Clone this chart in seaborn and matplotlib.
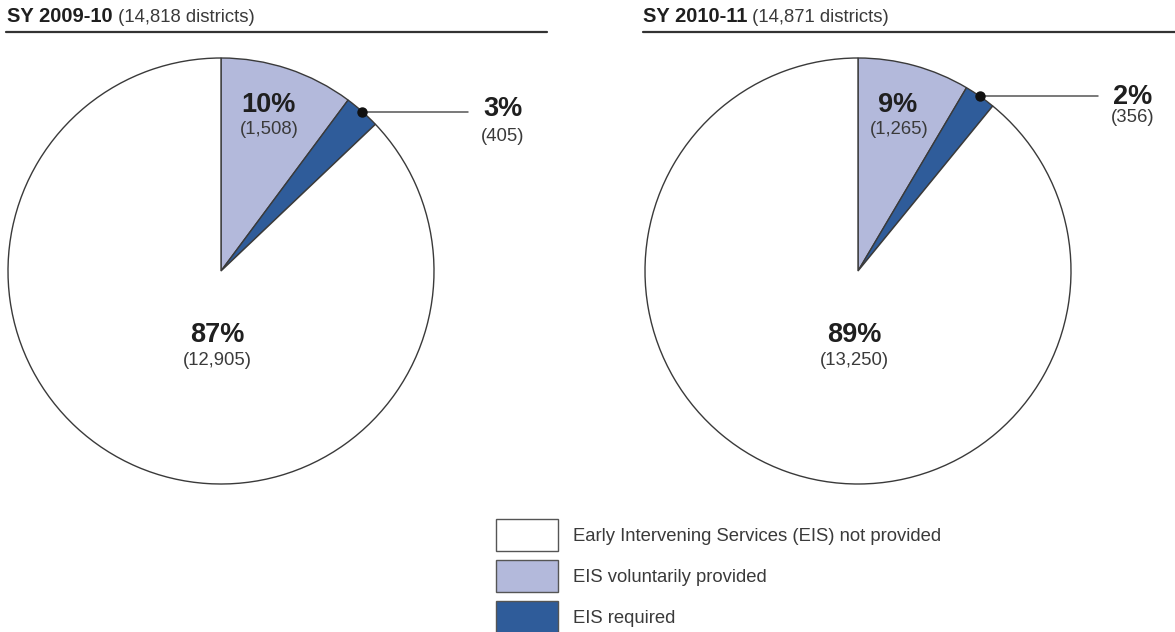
import numpy as np
import matplotlib
matplotlib.use("Agg")
import matplotlib.pyplot as plt
from matplotlib.patches import Patch
from matplotlib.lines import Line2D
import seaborn as sns

# ---- data ----
categories = ["EIS voluntarily provided", "EIS required", "Early Intervening Services (EIS) not provided"]
years = ["SY 2009-10", "SY 2010-11"]
totals = [14818, 14871]
counts_0910 = [1508, 405, 12905]
counts_1011 = [1265, 356, 13250]
pct_0910 = ["10%", "3%", "87%"]
pct_1011 = ["9%", "2%", "89%"]
legend_order = ["Early Intervening Services (EIS) not provided", "EIS voluntarily provided", "EIS required"]

sns.set_theme(style="white")
plt.rcParams['font.family'] = ['Liberation Sans', 'DejaVu Sans']

colors = {"EIS voluntarily provided": "#b3b9db",
          "EIS required": "#2f5c9a",
          "Early Intervening Services (EIS) not provided": "#ffffff"}
edge = "#3a3a3a"
BOLD_C = "#1f1f1f"
REG_C = "#3a3a3a"

W, H = 1175, 632
fig = plt.figure(figsize=(W / 100, H / 100), dpi=100)
fig.patch.set_facecolor("white")

def px_axes(cx, cy, r):
    return fig.add_axes([(cx - r) / W, 1 - (cy + r) / H, 2 * r / W, 2 * r / H])

pies = [
    dict(cx=221, cy=271, counts=counts_0910, pct=pct_0910, year=years[0], total=totals[0],
         tx=7, line=(6, 547), lead_end=1.16, lead_lab=1.324, lab_dy=0.01, sub_dy=-0.115),
    dict(cx=858, cy=271, counts=counts_1011, pct=pct_1011, year=years[1], total=totals[1],
         tx=643, line=(643, 1175), lead_end=1.127, lead_lab=1.29, lab_dy=-0.003, sub_dy=-0.10),
]

for p in pies:
    ax = px_axes(p["cx"], p["cy"], 213)
    vals = np.array(p["counts"], dtype=float)
    ax.pie(vals, colors=[colors[c] for c in categories], startangle=90, counterclock=False,
           radius=1.0, wedgeprops=dict(edgecolor=edge, linewidth=1.0))
    ax.set_xlim(-1.0, 1.0)
    ax.set_ylim(-1.0, 1.0)
    ax.axis("off")

    frac = vals / vals.sum()
    ang_start = 90.0
    ang_v_mid = np.deg2rad(ang_start - frac[0] * 180)
    ang_r_mid = np.deg2rad(ang_start - frac[0] * 360 - frac[1] * 180)

    # voluntarily label
    lx = 0.71 * np.cos(ang_v_mid)
    ax.text(lx, 0.778, p["pct"][0], ha="center", va="center", fontsize=19.5, fontweight="bold", color=BOLD_C)
    ax.text(lx + 0.005, 0.665, f"({p['counts'][0]:,})", ha="center", va="center", fontsize=13.3, color=REG_C)

    # required label with leader
    dx, dy = np.cos(ang_r_mid), np.sin(ang_r_mid)
    ax.plot([dx, p["lead_end"]], [dy, dy], color="#555555", lw=1.1, clip_on=False)
    ax.plot([dx], [dy], "o", color="#111111", ms=6.5, clip_on=False)
    ax.text(p["lead_lab"], dy + p["lab_dy"], p["pct"][1], ha="center", va="center", fontsize=19.5,
            fontweight="bold", color=BOLD_C, clip_on=False)
    ax.text(p["lead_lab"], dy + p["sub_dy"], f"({p['counts'][1]:,})", ha="center", va="center",
            fontsize=13.3, color=REG_C, clip_on=False)

    # not provided label
    ax.text(-0.015, -0.30, p["pct"][2], ha="center", va="center", fontsize=19.5, fontweight="bold", color=BOLD_C)
    ax.text(-0.015, -0.418, f"({p['counts'][2]:,})", ha="center", va="center", fontsize=13.3, color=REG_C)

    # title
    t = fig.text(p["tx"] / W, 1 - 16 / H, p["year"], ha="left", va="center", fontsize=14.5,
                 fontweight="bold", color=BOLD_C)
    fig.add_artist(matplotlib.text.Annotation(f" ({p['total']:,} districts)", xy=(1, 0), xycoords=t,
                                              ha="left", va="bottom", fontsize=13.3, color=REG_C,
                                              annotation_clip=False))
    fig.add_artist(Line2D([p["line"][0] / W, p["line"][1] / W], [1 - 32 / H, 1 - 32 / H],
                          color="#333333", lw=1.6, transform=fig.transFigure))

handles = [Patch(facecolor=colors[c], edgecolor="#555555", linewidth=1.0) for c in legend_order]
fig.legend(handles, legend_order, loc="upper left", bbox_to_anchor=(496 / W, 1 - 519 / H),
           frameon=False, fontsize=13.3, handlelength=3.35, handleheight=2.28,
           labelspacing=0.49, handletextpad=0.8, borderpad=0, borderaxespad=0, labelcolor=REG_C)

fig.savefig("out.png", dpi=100, facecolor="white")
